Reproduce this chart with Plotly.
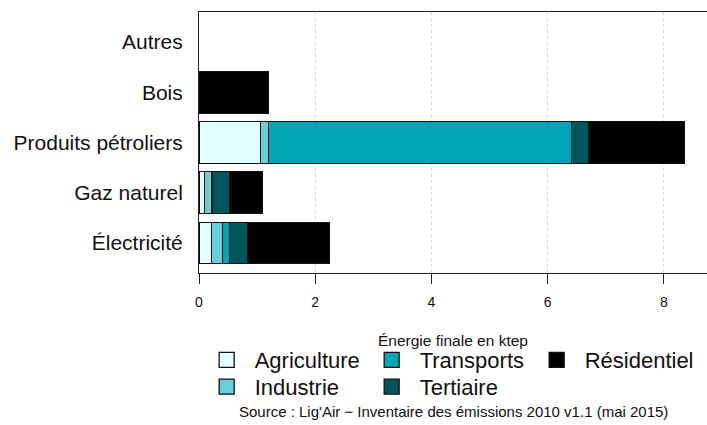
import plotly.graph_objects as go

# energy types (y axis, bottom to top)
energies = ["Électricité", "Gaz naturel", "Produits pétroliers", "Bois", "Autres"]

# consumption by sector, ktep
agriculture = [0.22, 0.10, 1.06, 0.0, 0.0]
industrie = [0.18, 0.12, 0.13, 0.0, 0.0]
transports = [0.13, 0.01, 5.22, 0.0, 0.0]
tertiaire = [0.30, 0.30, 0.29, 0.0, 0.0]
residentiel = [1.41, 0.56, 1.65, 1.20, 0.0]

x_ticks = [0, 2, 4, 6, 8]

FONT = "Arial, Liberation Sans, sans-serif"

# name, values, colour, legend row
series = [
    ("Agriculture", agriculture, "#E0FFFF", "legend"),
    ("Industrie", industrie, "#66CFD9", "legend2"),
    ("Transports", transports, "#00A6B6", "legend"),
    ("Tertiaire", tertiaire, "#00565F", "legend2"),
    ("Résidentiel", residentiel, "#000000", "legend"),
]

fig = go.Figure()

for name, values, color, leg in series:
    fig.add_trace(
        go.Bar(
            y=energies,
            x=values,
            name=name,
            orientation="h",
            width=0.83,
            legendgroup=name,
            showlegend=False,
            marker=dict(
                color=color,
                line=dict(color="#111111", width=[1 if v > 0 else 0 for v in values]),
            ),
        )
    )
    # legend entry only (bigger square swatch than the bar default)
    fig.add_trace(
        go.Scatter(
            x=[None],
            y=[None],
            mode="markers",
            name=name,
            legend=leg,
            legendgroup=name,
            marker=dict(symbol="square", size=15, color=color,
                        line=dict(color="#111111", width=1.3)),
        )
    )

legend_style = dict(
    orientation="h",
    xref="container",
    yref="container",
    x=0.281,
    xanchor="left",
    yanchor="top",
    entrywidth=104,
    itemwidth=46,
    traceorder="normal",
    font=dict(size=22, color="#111111"),
    bgcolor="rgba(0,0,0,0)",
)

fig.update_layout(
    barmode="stack",
    width=707,
    height=425,
    plot_bgcolor="white",
    paper_bgcolor="white",
    font=dict(family=FONT, color="#111111"),
    margin=dict(l=199, r=0, t=12, b=152),
    legend=dict(legend_style, y=0.2024),
    legend2=dict(legend_style, y=0.139),
    annotations=[
        dict(
            text="Énergie finale en ktep",
            xref="paper", yref="paper",
            x=(453 - 199) / 508, y=-(340 - 273) / 261,
            showarrow=False, font=dict(size=15.5, color="#111111"),
            xanchor="center", yanchor="middle",
        ),
        dict(
            text="Source : Lig'Air − Inventaire des émissions 2010 v1.1 (mai 2015)",
            xref="paper", yref="paper",
            x=(453 - 199) / 508, y=-(411 - 273) / 261,
            showarrow=False, font=dict(size=15, color="#111111"),
            xanchor="center", yanchor="middle",
        ),
    ],
)

fig.update_xaxes(
    range=[0, 8.74],
    tickvals=x_ticks,
    ticks="outside",
    ticklen=10,
    tickcolor="#222222",
    tickfont=dict(size=14, color="#111111"),
    ticklabelstandoff=6,
    showline=True,
    linecolor="#222222",
    linewidth=1,
    mirror=True,
    showgrid=True,
    gridcolor="#D9D9D9",
    griddash="dot",
    zeroline=False,
    automargin=False,
)

fig.update_yaxes(
    range=[-0.6, 4.6],
    showline=True,
    linecolor="#222222",
    linewidth=1,
    ticks="",
    tickfont=dict(size=21, color="#111111"),
    ticklabelstandoff=11,
    showgrid=False,
    zeroline=False,
    automargin=False,
)

# drop the default 8px body margin so the figure sits flush in the window
fig.write_html(
    "out.html",
    config={"displayModeBar": False},
    post_script="document.body.style.margin='0';",
)
